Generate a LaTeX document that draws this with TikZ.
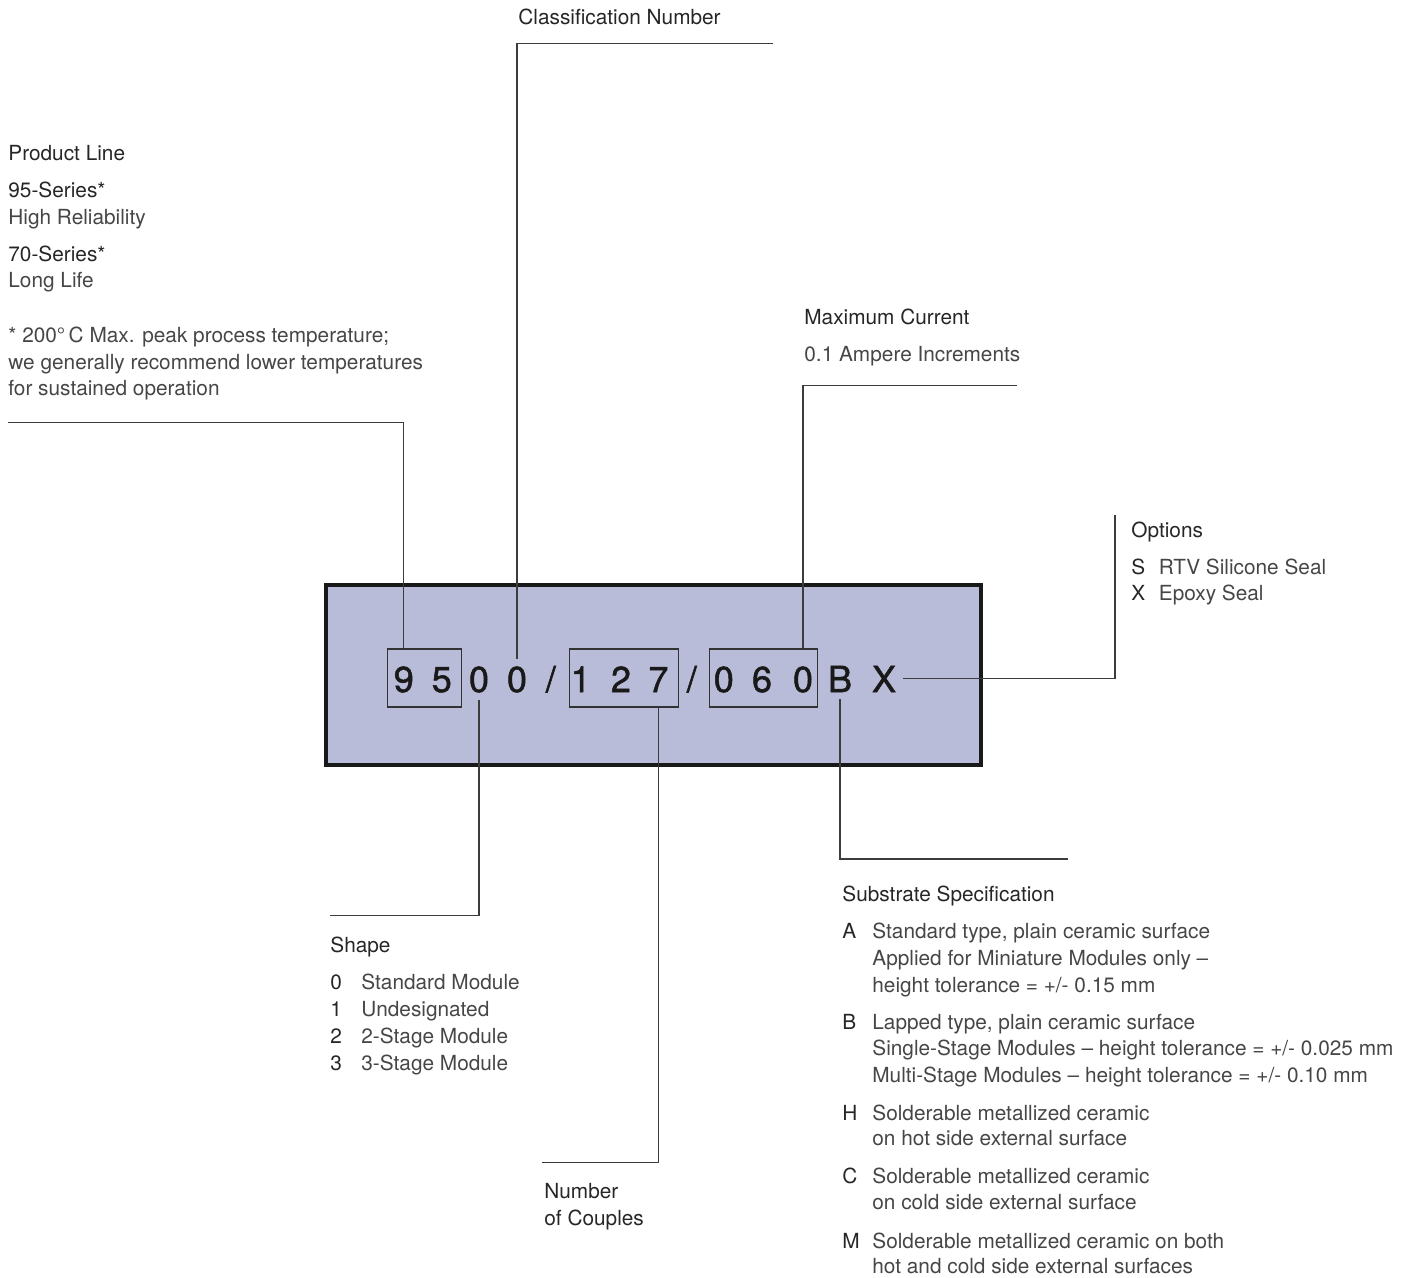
\documentclass[tikz,border=0pt]{standalone}
\usepackage{fontspec}
\setmainfont{TeX Gyre Heros}
\newfontfamily\codefont[FakeBold=1.4]{TeX Gyre Heros}
\definecolor{modfill}{HTML}{B9BCD8}
\definecolor{headgray}{HTML}{262626}
\definecolor{bodygray}{HTML}{464646}
\definecolor{leadgray}{HTML}{3C3C3C}

\begin{document}
\begin{tikzpicture}[x=0.5pt,y=-0.5pt,
  txt/.style={anchor=base west, inner sep=0pt, text=bodygray, font=\fontsize{10.4}{12.5}\selectfont},
  head/.style={txt, text=headgray},
  digit/.style={anchor=base, inner sep=3.5pt, text=black!90, font=\codefont\fontsize{18}{20}\selectfont},
  codebox/.style={draw=black!80, line width=0.6pt, minimum height=29pt, inner sep=0pt},
  lead/.style={draw=leadgray, line width=0.6pt}]

\useasboundingbox (0,0) rectangle (1418,1278);

\node[draw=black!90, line width=1.6pt, fill=modfill, minimum width=327.5pt, minimum height=90pt, inner sep=0pt] (module) at (653.5,675) {};

\node[digit] (d1) at (403.8,692) {9};
\node[digit] (d2) at (441.8,692) {5};
\node[digit] (d3) at (479,692) {0};
\node[digit] (d4) at (517,692) {0};
\node[digit] (s1) at (550.8,692) {/};
\node[digit] (d5) at (580.7,692) {1};
\node[digit] (d6) at (621,692) {2};
\node[digit] (d7) at (658.5,692) {7};
\node[digit] (s2) at (691.8,692) {/};
\node[digit] (d8) at (723.8,692) {0};
\node[digit] (d9) at (762,692) {6};
\node[digit] (d10) at (803,692) {0};
\node[digit] (dB) at (840,692) {B};
\node[digit] (dX) at (884,692) {X};

\node[codebox, minimum width=36.8pt] (box95) at (424.4,678) {};
\node[codebox, minimum width=54.35pt] (box127) at (623.85,678) {};
\node[codebox, minimum width=54.1pt] (box060) at (763.5,678) {};

\coordinate (plend) at (8,422.7);
\coordinate (clend) at (773,43.3);
\coordinate (mcend) at (1017,385.7);
\coordinate (opend) at (1115,515);
\coordinate (shend) at (330,915.7);
\coordinate (cpend) at (542,1162.7);
\coordinate (ssend) at (1068,859);

\draw[lead] (d1 |- box95.north) |- (plend);
\draw[lead] (d4.north) |- (clend);
\draw[lead] (d10 |- box060.north) |- (mcend);
\draw[lead] (dX.east) -| (opend);
\draw[lead] (d3.south) |- (shend);
\draw[lead] (d7 |- box127.south) |- (cpend);
\draw[lead] (dB.south) |- (ssend);

\node[head] (plhead) at (8,161) {Product Line};
\node[head] (pl95) at (8,198) {95-Series*};
\node[txt] (pl95d) at (8,225) {High Reliability};
\node[head] (pl70) at (8,262) {70-Series*};
\node[txt] (pl70d) at (8,288) {Long Life};
\node[txt] (plnote1) at (8,343) {* 200°\,C Max. peak process temperature;};
\node[txt] (plnote2) at (8,370) {we generally recommend lower temperatures};
\node[txt] (plnote3) at (8,395) {for sustained operation};

\node[head] (clhead) at (518,25) {Classification Number};

\node[head] (mchead) at (804,325) {Maximum Current};
\node[txt] (mcdesc) at (804,362) {0.1 Ampere Increments};

\node[head] (ophead) at (1131,537) {Options};
\node[head] (opS) at (1131,574) {S};
\node[txt] (opSd) at (1158.5,574) {RTV Silicone Seal};
\node[head] (opX) at (1131,600) {X};
\node[txt] (opXd) at (1158.5,600) {Epoxy Seal};

\node[head] (shhead) at (330,952) {Shape};
\node[head] (sh0) at (330,989) {0};
\node[txt] (sh0d) at (361,989) {Standard Module};
\node[head] (sh1) at (330,1016) {1};
\node[txt] (sh1d) at (361,1016) {Undesignated};
\node[head] (sh2) at (330,1043) {2};
\node[txt] (sh2d) at (361,1043) {2-Stage Module};
\node[head] (sh3) at (330,1070) {3};
\node[txt] (sh3d) at (361,1070) {3-Stage Module};

\node[head] (cphead1) at (544,1198) {Number};
\node[head] (cphead2) at (544,1225) {of Couples};

\node[head] (sshead) at (842,901) {Substrate Specification};
\node[head] (ssA) at (842,938) {A};
\node[txt] (ssA1) at (872,938) {Standard type, plain ceramic surface};
\node[txt] (ssA2) at (872,965) {Applied for Miniature Modules only --};
\node[txt] (ssA3) at (872,992) {height tolerance = +/- 0.15 mm};
\node[head] (ssB) at (842,1029) {B};
\node[txt] (ssB1) at (872,1029) {Lapped type, plain ceramic surface};
\node[txt] (ssB2) at (872,1055) {Single-Stage Modules -- height tolerance = +/- 0.025 mm};
\node[txt] (ssB3) at (872,1082) {Multi-Stage Modules -- height tolerance = +/- 0.10 mm};
\node[head] (ssH) at (842,1120) {H};
\node[txt] (ssH1) at (872,1120) {Solderable metallized ceramic};
\node[txt] (ssH2) at (872,1145) {on hot side external surface};
\node[head] (ssC) at (842,1183) {C};
\node[txt] (ssC1) at (872,1183) {Solderable metallized ceramic};
\node[txt] (ssC2) at (872,1209) {on cold side external surface};
\node[head] (ssM) at (842,1248) {M};
\node[txt] (ssM1) at (872,1248) {Solderable metallized ceramic on both};
\node[txt] (ssM2) at (872,1273) {hot and cold side external surfaces};

\end{tikzpicture}
\end{document}
